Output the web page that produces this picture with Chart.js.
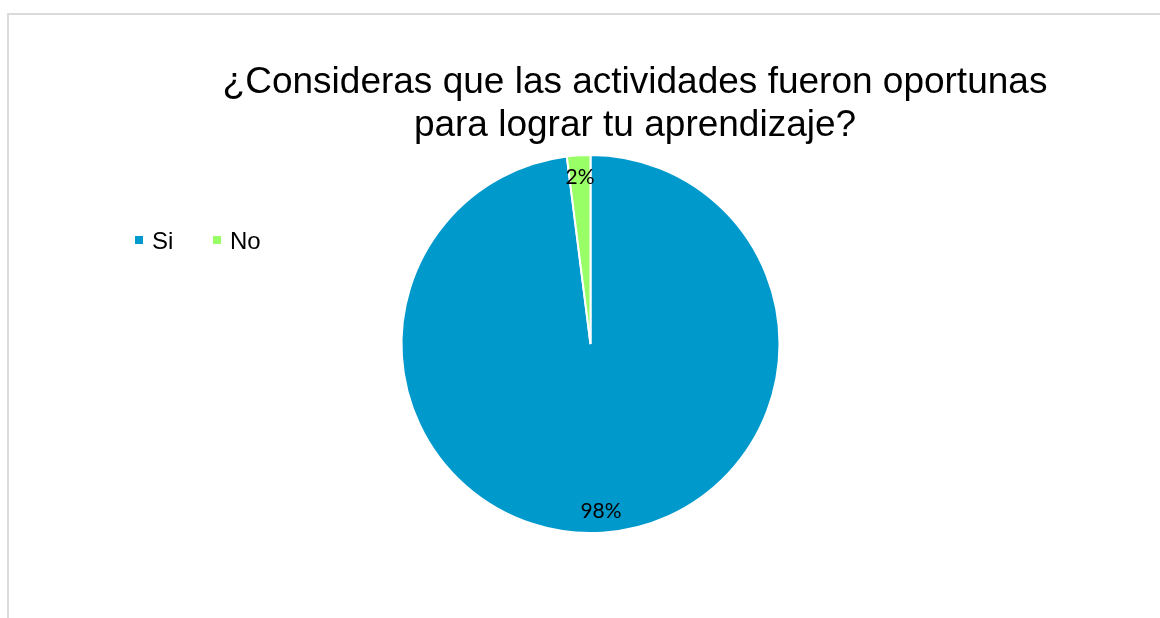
<!DOCTYPE html>
<html>
<head>
<meta charset="utf-8">
<script src="https://cdn.jsdelivr.net/npm/chart.js@4.4.0/dist/chart.umd.min.js"></script>
<style>
    body { margin: 0; background: #fff; overflow: hidden; }
    #wrap { position: relative; width: 1160px; height: 618px; }
    #marco { position: absolute; left: 7px; top: 13px; width: 1170px; height: 640px; border: 2px solid #dadada; box-sizing: border-box; }
    #grafico { position: absolute; left: 0; top: 0; }
</style>
</head>
<body>
<div id="wrap">
    <div id="marco"></div>
    <canvas id="grafico" width="1160" height="618"></canvas>
</div>
<script>
// datos del grafico
var _labels = ['Si', 'No'];
var _values = [98, 2];
var _colors = ['#0099cc', '#99ff66'];
var _titulo = ['¿Consideras que las actividades fueron oportunas', 'para lograr tu aprendizaje?'];

// titulo y leyenda dibujados a mano
var tituloLeyenda = {
    id: 'tituloLeyenda',
    afterDraw: function (chart) {
        var ctx = chart.ctx;
        ctx.save();
        ctx.fillStyle = '#000';
        ctx.textAlign = 'center';
        ctx.textBaseline = 'alphabetic';
        ctx.font = '37px "Liberation Sans", Arial, sans-serif';
        ctx.fillText(_titulo[0], 635, 93);
        ctx.fillText(_titulo[1], 635, 136);

        // leyenda
        ctx.textAlign = 'left';
        ctx.font = '24px "Liberation Sans", Arial, sans-serif';
        var xs = [135, 213];
        _labels.forEach(function (lbl, i) {
            ctx.fillStyle = _colors[i];
            ctx.fillRect(xs[i], 236, 8, 8);
            ctx.fillStyle = '#000';
            ctx.fillText(lbl, xs[i] + 17, 249);
        });
        ctx.restore();
    }
};

// etiquetas de porcentaje dentro de cada sector
var etiquetas = {
    id: 'etiquetas',
    afterDatasetsDraw: function (chart) {
        var ctx = chart.ctx;
        var meta = chart.getDatasetMeta(0);
        var total = _values.reduce(function (a, b) { return a + b; }, 0);
        ctx.save();
        ctx.fillStyle = '#000';
        ctx.font = '21px Lato, "Open Sans", sans-serif';
        ctx.textAlign = 'center';
        ctx.textBaseline = 'middle';
        meta.data.forEach(function (arc, i) {
            var p = arc.getProps(['x', 'y', 'startAngle', 'endAngle', 'outerRadius'], true);
            var mid = (p.startAngle + p.endAngle) / 2;
            var r = p.outerRadius * 0.885;
            var txt = Math.round(_values[i] / total * 100) + '%';
            ctx.fillText(txt, p.x + Math.cos(mid) * r, p.y + Math.sin(mid) * r);
        });
        ctx.restore();
    }
};

var ctx = document.getElementById('grafico').getContext('2d');
var _myChart = new Chart(ctx, {
    type: 'pie',
    data: {
        labels: _labels,
        datasets: [{
            data: _values,
            backgroundColor: _colors,
            borderColor: '#ffffff',
            borderWidth: 2
        }]
    },
    options: {
        responsive: false,
        animation: false,
        layout: { padding: { top: 154, bottom: 84, left: 300, right: 279 } },
        plugins: {
            legend: { display: false },
            title: { display: false },
            tooltip: { enabled: false }
        }
    },
    plugins: [tituloLeyenda, etiquetas]
});
</script>
</body>
</html>
